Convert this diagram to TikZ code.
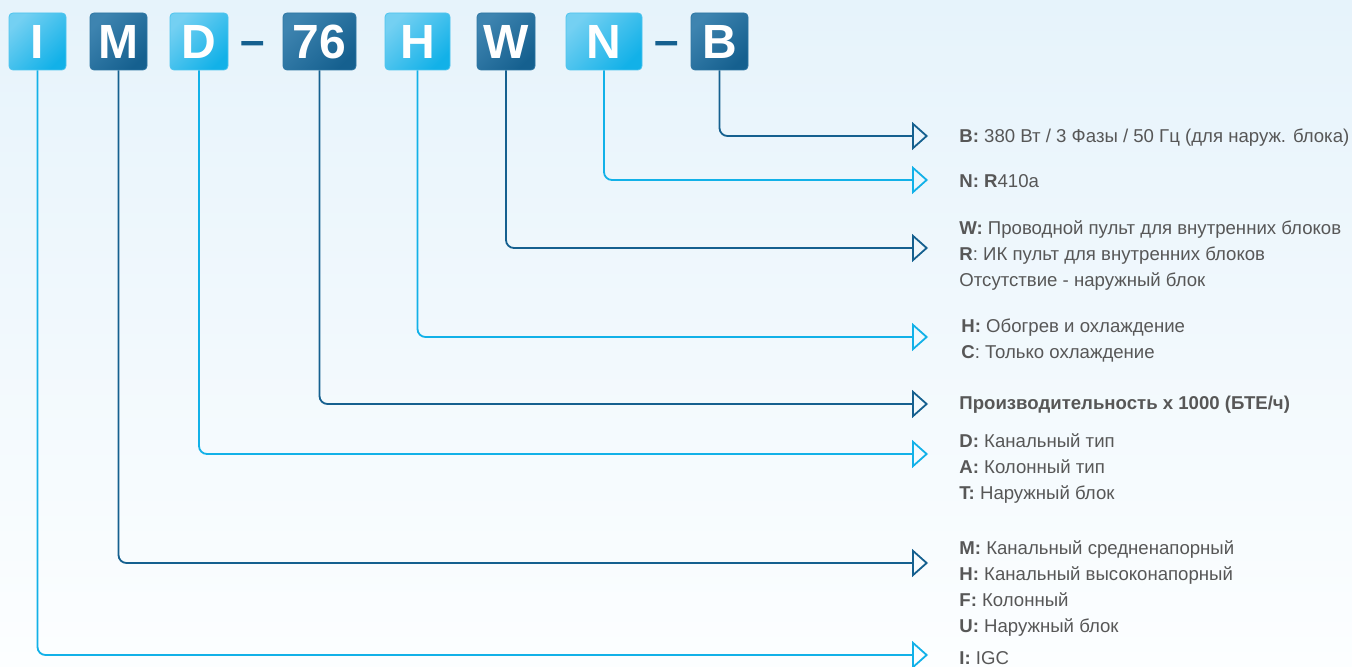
\documentclass[tikz,border=0pt]{standalone}
\usepackage{fontspec}
\setmainfont{Liberation Sans}
\usetikzlibrary{positioning}
\usetikzlibrary{arrows.meta}
\definecolor{lightblue}{HTML}{12B1E8}
\definecolor{lighttop}{HTML}{74D0F2}
\definecolor{darkblue}{HTML}{15608F}
\definecolor{darktop}{HTML}{3E84B0}
\definecolor{textgray}{HTML}{575757}
\definecolor{bgtop}{HTML}{E6F3FB}
\definecolor{bgbot}{HTML}{FCFEFF}

\begin{document}
\begin{tikzpicture}[x=0.5pt,y=-0.5pt]
		\tikzset{box/.style = {shape=rectangle,rounded corners=2pt,minimum height=28.5pt,inner sep=0pt,text=white,font=\fontsize{24pt}{24pt}\selectfont\bfseries}}
		\tikzset{boxlight/.style = {box,top color=lighttop,bottom color=lightblue,shading angle=45,draw=lighttop!60!lightblue,line width=0.4pt}}
		\tikzset{boxdark/.style = {box,top color=darktop,bottom color=darkblue,shading angle=45,draw=darktop!60!darkblue,line width=0.4pt}}
		\tikzset{sep/.style = {text=darkblue,font=\fontsize{22pt}{22pt}\selectfont\bfseries,inner sep=0pt}}
		\tikzset{desc/.style = {anchor=west,align=left,inner sep=0pt,text=textgray,font=\fontsize{9.3pt}{13pt}\selectfont}}
		\tikzset{edge/.style = {line width=0.9pt,rounded corners=4pt,-{Triangle[open,length=8pt,width=14pt,line width=0.9pt]}}}
		\tikzset{edgelight/.style = {edge,draw=lightblue}}
		\tikzset{edgedark/.style = {edge,draw=darkblue}}
		% background
		\shade[top color=bgtop,bottom color=bgbot] (0,0) rectangle (1352,667);
		\useasboundingbox (0,0) rectangle (1352,667);
		% boxes
		\node[boxlight, minimum width=28.5pt] (I) at (37.5,41.5) {I};
		\node[boxdark, minimum width=28.5pt] (M) at (118.5,41.5) {M};
		\node[boxlight, minimum width=29pt] (D) at (199,41.5) {D};
		\node[sep] (s1) at (253,49) {–};
		\node[boxdark, minimum width=36.5pt] (C) at (319.5,41.5) {76};
		\node[boxlight, minimum width=32.5pt] (H) at (417.5,41.5) {H};
		\node[boxdark, minimum width=29pt] (W) at (506,41.5) {W};
		\node[boxlight, minimum width=38pt] (N) at (604,41.5) {N};
		\node[sep] (s2) at (666.5,49) {–};
		\node[boxdark, minimum width=28.5pt] (B) at (719.5,41.5) {B};
		
		% arrow tips
		\coordinate (tB) at (928,136);
		\coordinate (tN) at (928,180);
		\coordinate (tW) at (928,248);
		\coordinate (tH) at (928,337);
		\coordinate (tC) at (928,404);
		\coordinate (tD) at (928,454);
		\coordinate (tM) at (928,563);
		\coordinate (tI) at (928,655);
		
		% descriptions
		\node[desc] (xB) at (959,138) {\textbf{B:} 380 Вт / 3 Фазы / 50 Гц (для наруж. блока)};
		\node[desc] (xN) at (959,181) {\textbf{N: R}410a};
		\node[desc] (xW) at (959,256) {\textbf{W:} Проводной пульт для внутренних блоков\\\textbf{R}: ИК пульт для внутренних блоков\\Отсутствие - наружный блок};
		\node[desc] (xH) at (961,341) {\textbf{H:} Обогрев и охлаждение\\\textbf{C}: Только охлаждение};
		\node[desc] (xC) at (959,405) {\textbf{Производительность х 1000 (БТЕ/ч)}};
		\node[desc] (xD) at (959,469) {\textbf{D:} Канальный тип\\\textbf{A:} Колонный тип\\\textbf{T:} Наружный блок};
		\node[desc] (xM) at (959,589) {\textbf{M:} Канальный средненапорный\\\textbf{H:} Канальный высоконапорный\\\textbf{F:} Колонный\\\textbf{U:} Наружный блок};
		\node[desc] (xI) at (959,658) {\textbf{I:} IGC};
		
		%edges
		\draw[edgedark] (B.south) |- (tB);
		\draw[edgelight] (N.south) |- (tN);
		\draw[edgedark] (W.south) |- (tW);
		\draw[edgelight] (H.south) |- (tH);
		\draw[edgedark] (C.south) |- (tC);
		\draw[edgelight] (D.south) |- (tD);
		\draw[edgedark] (M.south) |- (tM);
		\draw[edgelight] (I.south) |- (tI);
		
		\end{tikzpicture}
\end{document}
